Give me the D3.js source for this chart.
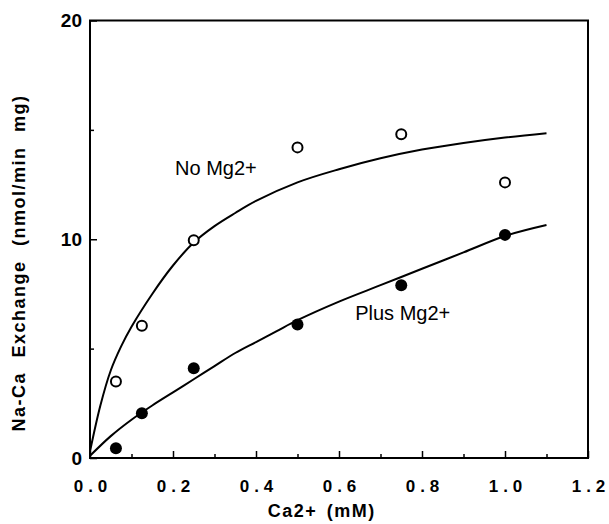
<!DOCTYPE html>
<html>
<head>
<meta charset="utf-8">
<script src="https://cdn.jsdelivr.net/npm/d3@7"></script>
<style>
  body { margin: 0; background: #fff; }
  svg { font-family: "Liberation Sans", Arial, sans-serif; }
</style>
</head>
<body>
<svg id="chart"></svg>
<script>
// measured points (Ca2+ in mM)
const caConc = [0.0625, 0.125, 0.25, 0.5, 0.75, 1.0];
const noMg = [3.5, 6.05, 9.95, 14.2, 14.8, 12.6];
const plusMg = [0.45, 2.05, 4.1, 6.1, 7.9, 10.2];

// fitted curves
const noMgFitX = [0, 0.025, 0.05, 0.075, 0.1, 0.15, 0.2, 0.25, 0.3, 0.35, 0.4, 0.5, 0.6, 0.7, 0.8, 0.9, 1.0, 1.1];
const noMgFitY = [0.3, 2.4, 4.0, 5.1, 6.0, 7.5, 8.8, 9.85, 10.6, 11.2, 11.75, 12.6, 13.2, 13.7, 14.1, 14.4, 14.65, 14.85];
const plusMgFitX = [0, 0.05, 0.1, 0.15, 0.2, 0.25, 0.3, 0.35, 0.4, 0.45, 0.5, 0.6, 0.7, 0.8, 0.9, 1.0, 1.1];
const plusMgFitY = [0.1, 1.0, 1.75, 2.4, 3.0, 3.6, 4.2, 4.8, 5.3, 5.8, 6.3, 7.15, 7.9, 8.65, 9.4, 10.15, 10.65];

const xMajor = [0, 0.2, 0.4, 0.6, 0.8, 1.0, 1.2];
const xMinor = [0.1, 0.3, 0.5, 0.7, 0.9, 1.1];
const yMajor = [0, 10, 20];
const yMinor = [5, 15];

const width = 609;
const height = 524;

const svg = d3.select('#chart')
    .attr('width', width)
    .attr('height', height);

const x = d3.scaleLinear().domain([0, 1.2]).range([90, 588]);
const y = d3.scaleLinear().domain([0, 20]).range([458, 20.5]);

// frame
svg.append('rect')
    .attr('x', x(0))
    .attr('y', y(20))
    .attr('width', x(1.2) - x(0))
    .attr('height', y(0) - y(20))
    .attr('fill', 'none')
    .attr('stroke', '#000')
    .attr('stroke-width', 2);

// x axis, ticks pointing inward
const xAxis = svg.append('g')
    .attr('transform', `translate(0,${y(0)})`)
    .call(d3.axisBottom(x).tickValues(xMajor).tickSizeInner(-7).tickSizeOuter(0)
        .tickPadding(22).tickFormat(d3.format('.1f')));
xAxis.select('.domain').remove();
xAxis.selectAll('.tick line').attr('stroke-width', 1.5);
xAxis.selectAll('.tick text')
    .attr('fill', '#000')
    .attr('font-size', 17)
    .attr('font-weight', 'bold')
    .attr('dx', 2.5)
    .style('letter-spacing', '5px');

svg.append('g')
    .attr('transform', `translate(0,${y(0)})`)
    .call(d3.axisBottom(x).tickValues(xMinor).tickSizeInner(-4).tickSizeOuter(0).tickFormat(''))
    .call(g => g.select('.domain').remove())
    .selectAll('.tick line').attr('stroke-width', 1.5);

// y axis
const yAxis = svg.append('g')
    .attr('transform', `translate(${x(0)},0)`)
    .call(d3.axisLeft(y).tickValues(yMajor).tickSizeInner(-7).tickSizeOuter(0).tickPadding(8));
yAxis.select('.domain').remove();
yAxis.selectAll('.tick line').attr('stroke-width', 1.5);
yAxis.selectAll('.tick text')
    .attr('fill', '#000')
    .attr('font-size', 19)
    .attr('font-weight', 'bold');

svg.append('g')
    .attr('transform', `translate(${x(0)},0)`)
    .call(d3.axisLeft(y).tickValues(yMinor).tickSizeInner(-4).tickSizeOuter(0).tickFormat(''))
    .call(g => g.select('.domain').remove())
    .selectAll('.tick line').attr('stroke-width', 1.5);

// fitted curves
const line = d3.line()
    .x(d => x(d[0]))
    .y(d => y(d[1]))
    .curve(d3.curveCatmullRom);

svg.append('path')
    .datum(d3.zip(noMgFitX, noMgFitY))
    .attr('d', line)
    .attr('fill', 'none')
    .attr('stroke', '#000')
    .attr('stroke-width', 2);

svg.append('path')
    .datum(d3.zip(plusMgFitX, plusMgFitY))
    .attr('d', line)
    .attr('fill', 'none')
    .attr('stroke', '#000')
    .attr('stroke-width', 2);

// data points
svg.selectAll('circle.open')
    .data(d3.zip(caConc, noMg))
    .enter()
    .append('circle')
    .attr('class', 'open')
    .attr('cx', d => x(d[0]))
    .attr('cy', d => y(d[1]))
    .attr('r', 5)
    .attr('fill', '#fff')
    .attr('stroke', '#000')
    .attr('stroke-width', 2);

svg.selectAll('circle.filled')
    .data(d3.zip(caConc, plusMg))
    .enter()
    .append('circle')
    .attr('class', 'filled')
    .attr('cx', d => x(d[0]))
    .attr('cy', d => y(d[1]))
    .attr('r', 6)
    .attr('fill', '#000');

// curve labels
svg.append('text')
    .attr('x', x(0.205))
    .attr('y', y(12.92))
    .attr('font-size', 20)
    .text('No Mg2+');

svg.append('text')
    .attr('x', x(0.639))
    .attr('y', y(6.3))
    .attr('font-size', 20)
    .text('Plus Mg2+');

// axis titles
svg.append('text')
    .attr('x', 321)
    .attr('y', 517)
    .attr('text-anchor', 'middle')
    .attr('font-size', 18)
    .attr('font-weight', 'bold')
    .attr('dx', 0.75)
    .style('letter-spacing', '1.5px')
    .style('word-spacing', '3px')
    .text('Ca2+ (mM)');

svg.append('text')
    .attr('transform', 'rotate(-90)')
    .attr('x', -263)
    .attr('y', 25)
    .attr('text-anchor', 'middle')
    .attr('font-size', 18)
    .attr('font-weight', 'bold')
    .style('letter-spacing', '1.5px')
    .style('word-spacing', '8px')
    .text('Na-Ca Exchange (nmol/min mg)');
</script>
</body>
</html>
